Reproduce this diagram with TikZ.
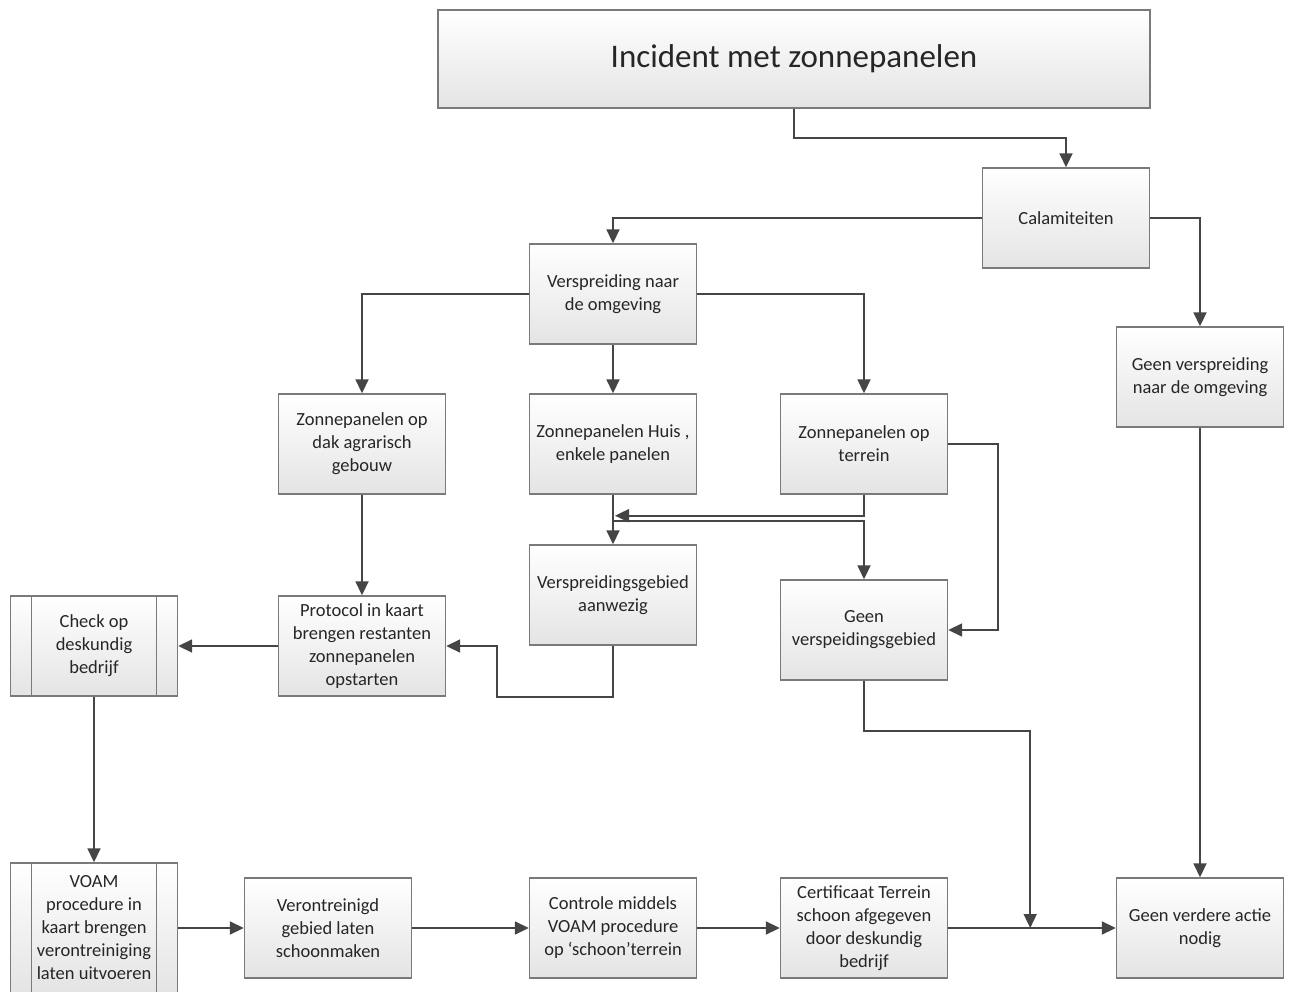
\documentclass[tikz,border=0pt]{standalone}
\usepackage{fontspec}
\setmainfont{Carlito}
\usetikzlibrary{arrows.meta,calc}

\definecolor{linegray}{HTML}{454545}
\definecolor{boxgray}{HTML}{7A7A7A}
\definecolor{boxbottom}{HTML}{E4E4E4}

\begin{document}
\begin{tikzpicture}[x=1pt,y=-1pt,
    box/.style={draw=boxgray, line width=1.4pt, top color=white, bottom color=boxbottom,
        minimum width=167pt, minimum height=100pt, align=center, inner sep=2pt,
        text=black!85, font=\fontsize{18.5}{23}\selectfont},
    subproc/.style={box, path picture={
        \draw[boxgray, line width=1.2pt] ([xshift=21pt]path picture bounding box.north west) -- ([xshift=21pt]path picture bounding box.south west);
        \draw[boxgray, line width=1.2pt] ([xshift=-21pt]path picture bounding box.north east) -- ([xshift=-21pt]path picture bounding box.south east);}},
    arr/.style={draw=linegray, line width=1.8pt, -{Triangle[length=14pt,width=13pt]}}]
    \useasboundingbox (0,0) rectangle (1294,992);

    \node[box, minimum width=712pt, minimum height=98pt, font=\fontsize{33}{38}\selectfont] (title) at (794,59) {Incident met zonnepanelen};
    \node[box] (calam) at (1066,218) {Calamiteiten};
    \node[box] (verspr) at (613,294) {Verspreiding naar\\de omgeving};
    \node[box] (geenverspr) at (1200,377) {Geen verspreiding\\naar de omgeving};
    \node[box] (dak) at (362,444) {Zonnepanelen op\\dak agrarisch\\gebouw};
    \node[box] (huis) at (613,444) {Zonnepanelen Huis ,\\enkele panelen};
    \node[box] (terrein) at (864,444) {Zonnepanelen op\\terrein};
    \node[box] (gebied) at (613,595) {Verspreidingsgebied\\aanwezig};
    \node[box] (geengebied) at (864,630) {Geen\\verspeidingsgebied};
    \node[box] (protocol) at (362,646) {Protocol in kaart\\brengen restanten\\zonnepanelen\\opstarten};
    \node[subproc] (check) at (94,646) {Check op\\deskundig\\bedrijf};
    \node[subproc, minimum height=130pt] (voam) at (94,928) {VOAM\\procedure in\\kaart brengen\\verontreiniging\\laten uitvoeren};
    \node[box] (schoon) at (328,928) {Verontreinigd\\gebied laten\\schoonmaken};
    \node[box] (controle) at (613,928) {Controle middels\\VOAM procedure\\op ‘schoon’terrein};
    \node[box] (certificaat) at (864,928) {Certificaat Terrein\\schoon afgegeven\\door deskundig\\bedrijf};
    \node[box] (geenactie) at (1200,928) {Geen verdere actie\\nodig};

    \coordinate (split1) at ($(huis.south)+(2,21)$);
    \coordinate (split2) at ($(huis.south)+(0,26)$);
    \coordinate (join) at ($(certificaat.east)+(82,0)$);

    % top part
    \draw[arr] (title.south) -- ++(0,29) -| (calam.north);
    \draw[arr] (calam.west) -| (verspr.north);
    \draw[arr] (calam.east) -| (geenverspr.north);
    \draw[arr] (verspr.west) -| (dak.north);
    \draw[arr] (verspr.south) -- (huis.north);
    \draw[arr] (verspr.east) -| (terrein.north);

    % middle part
    \draw[arr] (huis.south) -- (gebied.north);
    \draw[arr] (terrein.south) |- (split1);
    \draw[arr] (split2) -| (geengebied.north);
    \draw[arr] (terrein.east) -- ++(50,0) |- (geengebied.east);
    \draw[arr] (dak.south) -- (protocol.north);
    \draw[arr] (gebied.south) -- ++(0,51) -| ($(protocol.east)+(51,0)$) -- (protocol.east);
    \draw[arr] (protocol.west) -- (check.east);
    \draw[arr] (check.south) -- (voam.north);

    % bottom row
    \draw[arr] (voam.east) -- (schoon.west);
    \draw[arr] (schoon.east) -- (controle.west);
    \draw[arr] (controle.east) -- (certificaat.west);
    \draw[arr] (certificaat.east) -- (geenactie.west);
    \draw[arr] (geengebied.south) -- ++(0,50) -| (join);
    \draw[arr] (geenverspr.south) -- (geenactie.north);
\end{tikzpicture}
\end{document}
